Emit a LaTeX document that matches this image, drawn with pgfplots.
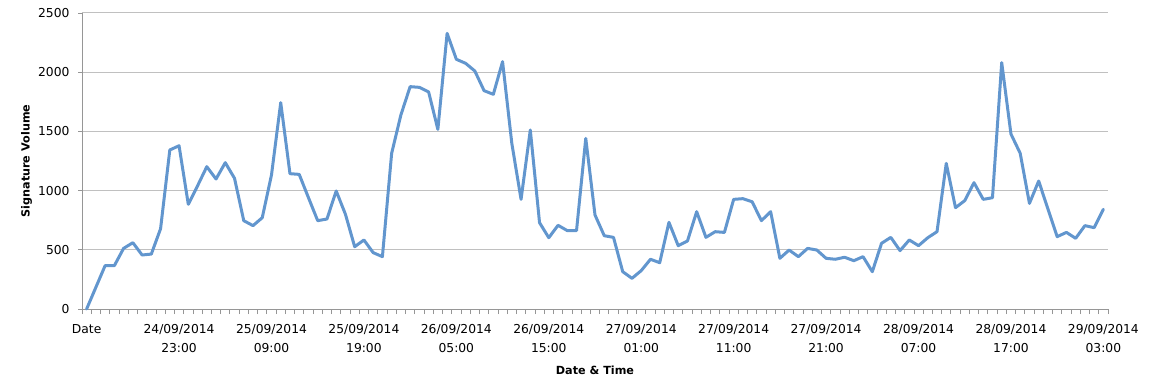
\documentclass[border=0pt]{standalone}
\usepackage{pgfplots}
\pgfplotsset{compat=1.18}
\usepackage{fontspec}
\setmainfont{DejaVu Sans}
\definecolor{linec}{RGB}{98,150,206}
\definecolor{gridc}{RGB}{192,192,192}
\definecolor{axisc}{RGB}{150,150,150}
\pgfplotstableread{
x y
0 0
1 183
2 366
3 366
4 512
5 560
6 456
7 464
8 678
9 1343
10 1379
11 884
12 1040
13 1202
14 1098
15 1236
16 1104
17 746
18 704
19 771
20 1132
21 1743
22 1143
23 1137
24 940
25 746
26 760
27 997
28 800
29 526
30 583
31 476
32 442
33 1315
34 1639
35 1878
36 1872
37 1833
38 1517
39 2328
40 2109
41 2075
42 2010
43 1844
44 1813
45 2089
46 1399
47 926
48 1512
49 729
50 602
51 707
52 662
53 662
54 1441
55 794
56 619
57 605
58 315
59 259
60 324
61 420
62 391
63 732
64 535
65 574
66 822
67 605
68 653
69 647
70 926
71 932
72 906
73 746
74 822
75 428
76 498
77 442
78 512
79 498
80 428
81 420
82 437
83 408
84 442
85 315
86 555
87 605
88 493
89 583
90 535
91 602
92 653
93 1230
94 856
95 915
96 1067
97 926
98 940
99 2081
100 1478
101 1315
102 892
103 1081
104 845
105 611
106 647
107 597
108 704
109 687
110 842
}\datatable
\begin{document}
\begin{tikzpicture}
\path[use as bounding box] (0,0) rectangle (1149bp,386bp);
\begin{axis}[
  at={(82bp,77bp)}, anchor=south west,
  scale only axis, width=1026bp, height=296bp,
  xmin=-0.5, xmax=110.5, ymin=0, ymax=2500,
  axis x line*=bottom, axis y line*=left,
  axis line style={draw=axisc, line width=0.8bp},
  xtick={0,10,...,110},
  xticklabels={Date,{24/09/2014\\23:00},{25/09/2014\\09:00},{25/09/2014\\19:00},{26/09/2014\\05:00},{26/09/2014\\15:00},{27/09/2014\\01:00},{27/09/2014\\11:00},{27/09/2014\\21:00},{28/09/2014\\07:00},{28/09/2014\\17:00},{29/09/2014\\03:00}},
  minor xtick={-0.5,0.5,...,110.5},
  ytick={0,500,...,2500},
  tick align=outside,
  major tick length=4bp, minor tick length=5bp,
  x tick style={draw=none}, minor x tick style={draw=axisc, line width=0.8bp},
  y tick style={draw=axisc, line width=0.8bp},
  ymajorgrids, grid style={draw=gridc, line width=1bp},
  /pgf/number format/assume math mode=true,
  /pgf/number format/1000 sep={},
  ticklabel style={font=\fontsize{12.3bp}{18.5bp}\selectfont, text=black},
  xticklabel style={align=center, anchor=north, yshift=-8bp},
  yticklabel style={anchor=east, xshift=-5bp},
  label style={font=\bfseries\fontsize{11.2bp}{13bp}\selectfont},
  xlabel={Date \& Time},
  ylabel={Signature Volume},
  xlabel style={at={(axis description cs:0.5,-0.206)}, anchor=center},
  ylabel style={at={(axis description cs:-0.0541,0.5)}, anchor=center},
  clip=false,
]
\addplot[linec, line width=3bp, line join=round, line cap=round, mark=none] table[x=x,y=y] {\datatable};
\end{axis}
\end{tikzpicture}
\end{document}
